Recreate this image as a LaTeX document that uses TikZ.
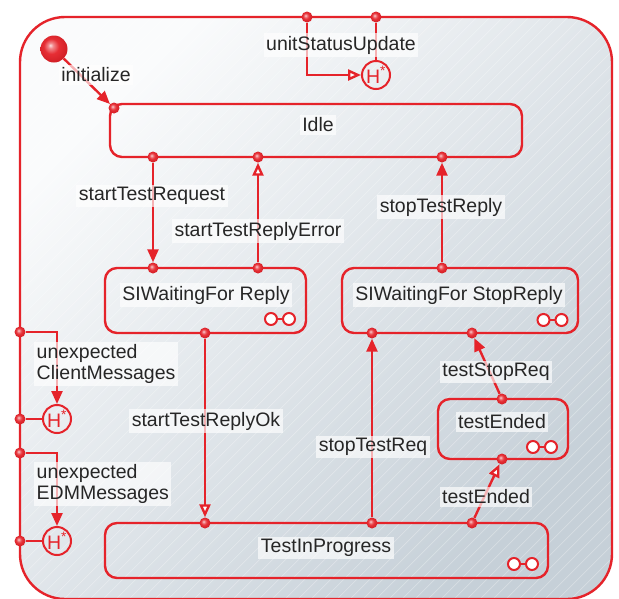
\documentclass[tikz,border=0pt]{standalone}
\usepackage{fontspec}
\setmainfont{Liberation Sans}
\usetikzlibrary{arrows.meta}
\definecolor{umlred}{HTML}{E5232A}
\definecolor{txtc}{HTML}{262626}
\definecolor{bgA}{HTML}{FAFBFC}
\definecolor{bgB}{HTML}{C6D0D8}
\pgfdeclareradialshading{redball}{\pgfpoint{-7bp}{7bp}}{%
  color(0bp)=(white!85!umlred);
  color(5bp)=(white!45!umlred);
  color(14bp)=(umlred!95!white);
  color(27bp)=(umlred!92!black);
  color(50bp)=(umlred!92!black)}
\pgfdeclarelayer{bg}
\pgfdeclarelayer{lines}
\pgfsetlayers{bg,lines,main}
\begin{document}
\begin{tikzpicture}[x=1pt,y=-1pt,
  font=\fontsize{19.5}{20.5}\selectfont,
  state/.style={draw=umlred, line width=2.4pt, rounded corners=12pt, inner sep=0pt},
  dot/.style={circle, inner sep=0pt, minimum size=11pt, shading=redball},
  lbl/.style={fill=white, fill opacity=0.65, text opacity=1, text=txtc, inner sep=2.5pt},
  hist/.style={circle, draw=umlred, line width=2pt, minimum size=28pt, inner sep=0pt, text=umlred},
  tr/.style={draw=umlred, line width=2.4pt},
  solidhead/.style={-{Triangle[length=13pt,width=11pt]}},
  openhead/.style={-{Triangle[open,length=13pt,width=11pt,fill=white]}},
  subicon/.pic={\draw[umlred,line width=2pt] (-9,0) -- (9,0);
    \draw[umlred,line width=2pt,fill=white] (-9,0) circle[radius=6pt] (9,0) circle[radius=6pt];}
]
\useasboundingbox (0,0) rectangle (619,598);
\begin{pgfonlayer}{bg}
  \fill[white] (0,0) rectangle (619,598);
  \shade[top color=bgA, bottom color=bgB, shading angle=45, rounded corners=45pt] (20,17) rectangle (612,599);
  \begin{scope}
    \clip[rounded corners=45pt] (20,17) rectangle (612,599);
    \foreach \a in {-600,-587,...,640} {
      \draw[white, opacity=0.3, line width=0.7pt] (\a,600) -- (\a+600,0);
    }
  \end{scope}
\end{pgfonlayer}

% outer composite state
\node[state, rounded corners=45pt, minimum width=592pt, minimum height=582pt] (outer) at (316,308) {};

% states
\node[state, minimum width=412pt, minimum height=53pt] (idle) at (316,130.5) {};
\node[state, minimum width=201pt, minimum height=65pt] (siwr) at (205.5,300.5) {};
\node[state, minimum width=236pt, minimum height=65pt] (siwsr) at (460,300.5) {};
\node[state, minimum width=130pt, minimum height=60pt] (tend) at (503,429) {};
\node[state, minimum width=443pt, minimum height=55pt] (tip) at (326.5,550.5) {};

% state names
\node[lbl] (idleN) at (318,125) {Idle};
\node[lbl] (siwrN) at (206,295) {SIWaitingFor Reply};
\node[lbl] (siwsrN) at (459,295) {SIWaitingFor StopReply};
\node[lbl] (tendN) at (502,422) {testEnded};
\node[lbl] (tipN) at (326,548) {TestInProgress};

% submachine icons
\pic at (280,319) {subicon};
\pic at (552.5,320) {subicon};
\pic at (542,447) {subicon};
\pic at (523,564) {subicon};

% initial state and history states
\node[circle, minimum size=27pt, inner sep=0pt, shading=redball] (init) at (54,49) {};
\node[hist] (hTop) at (376,75) {H\textsuperscript{*}};
\node[hist] (hL1) at (57,419) {H\textsuperscript{*}};
\node[hist] (hL2) at (57,541) {H\textsuperscript{*}};

% connection dots
\node[dot] (idTL) at (114,108) {};
\node[dot] (idB1) at (153,157) {};
\node[dot] (idB2) at (258,157) {};
\node[dot] (idB3) at (442,157) {};
\node[dot] (swT1) at (153,268) {};
\node[dot] (swT2) at (258,268) {};
\node[dot] (swB) at (205,333) {};
\node[dot] (ssT) at (442,268) {};
\node[dot] (ssB1) at (372,333) {};
\node[dot] (ssB2) at (472,333) {};
\node[dot] (teT) at (502,399) {};
\node[dot] (teB) at (502,459) {};
\node[dot] (tpT1) at (205,523) {};
\node[dot] (tpT2) at (372,523) {};
\node[dot] (tpT3) at (472,523) {};
\node[dot] (oT1) at (307,17) {};
\node[dot] (oT2) at (376,17) {};
\node[dot] (oL1) at (20,332) {};
\node[dot] (oL2) at (20,419) {};
\node[dot] (oL3) at (20,453) {};
\node[dot] (oL4) at (20,541) {};

% transitions
\begin{pgfonlayer}{lines}
  \draw[tr, solidhead] (init) -- (idTL);
  \draw[tr, openhead] (oT1) |- (hTop);
  \draw[tr] (oT2) -- (hTop);
  \draw[tr, solidhead] (idB1) -- (swT1);
  \draw[tr, openhead] (swT2) -- (idB2);
  \draw[tr, solidhead] (ssT) -- (idB3);
  \draw[tr, openhead] (swB) -- (tpT1);
  \draw[tr, solidhead] (tpT2) -- (ssB1);
  \draw[tr, openhead] (tpT3) -- (teB);
  \draw[tr, solidhead] (teT) -- (ssB2);
  \draw[tr, solidhead] (oL1) -| (hL1);
  \draw[tr] (oL2) -- (hL1);
  \draw[tr, solidhead] (oL3) -| (hL2);
  \draw[tr] (oL4) -- (hL2);
\end{pgfonlayer}

% transition labels
\node[lbl] (lInit) at (96,75) {initialize};
\node[lbl] (lUnit) at (341,45) {unitStatusUpdate};
\node[lbl] (lStReq) at (152,196) {startTestRequest};
\node[lbl] (lStErr) at (258,231) {startTestReplyError};
\node[lbl] (lStopRep) at (441,207) {stopTestReply};
\node[lbl] (lStOk) at (206,421) {startTestReplyOk};
\node[lbl] (lStopReq) at (373,447) {stopTestReq};
\node[lbl] (lTSR) at (496,372) {testStopReq};
\node[lbl] (lTE) at (486,497) {testEnded};
\node[lbl, align=left, anchor=west] (lCM) at (34,364) {unexpected\\ClientMessages};
\node[lbl, align=left, anchor=west] (lEDM) at (34,484) {unexpected\\EDMMessages};
\end{tikzpicture}
\end{document}
